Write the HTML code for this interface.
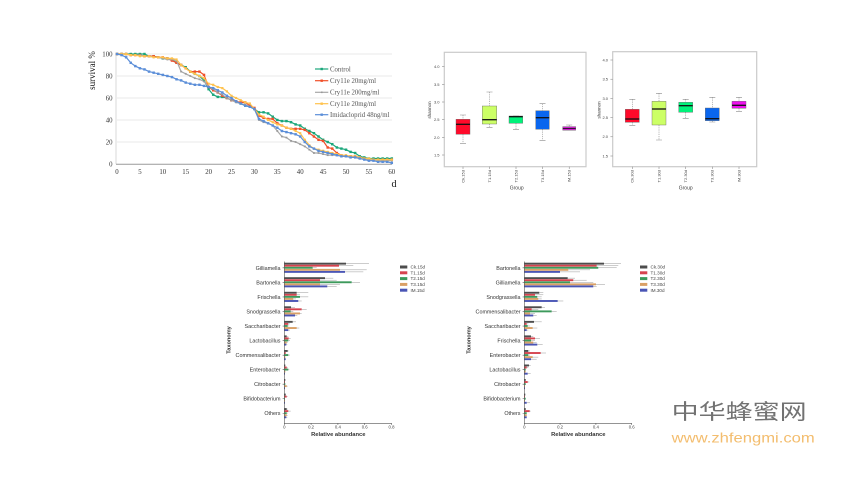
<!DOCTYPE html>
<html><head><meta charset="utf-8"><style>
html,body{margin:0;padding:0;background:#fff;}
svg{display:block;}
.ser{font-family:"Liberation Serif",serif;}
.san{font-family:"Liberation Sans",sans-serif;}
.a{fill:#4d4d4d}.b{fill:#d6434e}.c{fill:#3d9a5c}.d{fill:#d9a066}.e{fill:#4a55b5}
.err{stroke:#9a9a9a;stroke-width:0.5;fill:none}
.ln{fill:none;stroke-width:1.2;vector-effect:non-scaling-stroke;stroke-linejoin:round}
.wk{stroke:#8a8a8a;stroke-width:0.6;stroke-dasharray:1.2 1;fill:none}
.cap{stroke:#8a8a8a;stroke-width:0.6;fill:none}
.med{stroke:#111;stroke-width:1.3}
.bx{stroke:#666;stroke-width:0.4}
</style></head><body>
<svg width="864" height="484" viewBox="0 0 864 484" xmlns="http://www.w3.org/2000/svg">
<defs>
<marker id="m1" markerUnits="userSpaceOnUse" markerWidth="2" markerHeight="4" refX="0" refY="0" style="overflow:visible"><rect x="-0.27" y="-1.1" width="0.54" height="2.2" fill="#1aa67a"/></marker>
<marker id="m2" markerUnits="userSpaceOnUse" markerWidth="2" markerHeight="4" refX="0" refY="0" style="overflow:visible"><rect x="-0.27" y="-1.1" width="0.54" height="2.2" fill="#f0502a"/></marker>
<marker id="m3" markerUnits="userSpaceOnUse" markerWidth="2" markerHeight="4" refX="0" refY="0" style="overflow:visible"><rect x="-0.2" y="-0.8" width="0.4" height="1.6" fill="#9a9a9a"/></marker>
<marker id="m4" markerUnits="userSpaceOnUse" markerWidth="2" markerHeight="4" refX="0" refY="0" style="overflow:visible"><rect x="-0.24" y="-1" width="0.48" height="2" fill="#ffc24d"/></marker>
<marker id="m5" markerUnits="userSpaceOnUse" markerWidth="2" markerHeight="4" refX="0" refY="0" style="overflow:visible"><rect x="-0.27" y="-1.1" width="0.54" height="2.2" fill="#5b8ed8"/></marker>
</defs>
<rect width="864" height="484" fill="#fff"/>

<!-- ============ LINE CHART ============ -->
<g stroke="#e3e3e3" stroke-width="0.8">
<line x1="117" y1="54" x2="392" y2="54"/>
<line x1="117" y1="76" x2="392" y2="76"/>
<line x1="117" y1="98" x2="392" y2="98"/>
<line x1="117" y1="120" x2="392" y2="120"/>
<line x1="117" y1="142" x2="392" y2="142"/>
</g>
<line x1="116" y1="54" x2="116" y2="164" stroke="#cfcfcf" stroke-width="0.8"/>
<line x1="116" y1="164.3" x2="392" y2="164.3" stroke="#9a9a9a" stroke-width="1"/>
<g class="ser" font-size="6.8" fill="#333" text-anchor="end">
<text x="112.5" y="56.4">100</text>
<text x="112.5" y="78.4">80</text>
<text x="112.5" y="100.4">60</text>
<text x="112.5" y="122.4">40</text>
<text x="112.5" y="144.4">20</text>
<text x="112.5" y="166.4">0</text>
</g>
<g class="ser" font-size="6.8" fill="#333" text-anchor="middle">
<text x="117" y="174">0</text>
<text x="139.9" y="174">5</text>
<text x="162.8" y="174">10</text>
<text x="185.7" y="174">15</text>
<text x="208.6" y="174">20</text>
<text x="231.5" y="174">25</text>
<text x="254.4" y="174">30</text>
<text x="277.3" y="174">35</text>
<text x="300.2" y="174">40</text>
<text x="323.1" y="174">45</text>
<text x="346" y="174">50</text>
<text x="368.9" y="174">55</text>
<text x="391.8" y="174">60</text>
</g>
<text class="ser" font-size="9" fill="#111" text-anchor="middle" transform="translate(95,70.5) rotate(-90)">survival %</text>
<text class="ser" font-size="10" fill="#111" x="391.5" y="187">d</text>

<g transform="translate(117,164) scale(4.58,-1.1)">
<polyline class="ln" stroke="#1aa67a" marker-start="url(#m1)" marker-mid="url(#m1)" marker-end="url(#m1)" points="0,100 1,100 2,100 3,100 4,100 5,100 6,100 7,98 8,98 9,97 10,96 11,96 12,95 13,92 14,90 15,88 16,84 17,82 18,80 19,76 20,68 21,63 22,61 23,61 24,60 25,58 26,57 27,55 28,53 29,52 30,50 31,47 32,47 33,46 34,43 35,40 36,39 37,39 38,38 39,36 40,35 41,32 42,30 43,28 44,25 45,22 46,20 47,18 48,15 49,14 50,13 51,11 52,10 53,7 54,6 55,5 56,5 57,5 58,5 59,5 60,5"/>
<polyline class="ln" stroke="#f0502a" marker-start="url(#m2)" marker-mid="url(#m2)" marker-end="url(#m2)" points="0,100 1,100 2,100 3,99 4,99 5,99 6,98 7,98 8,98 9,97 10,97 11,96 12,94 13,92 14,90 15,87 16,84 17,84 18,84 19,81 20,70 21,67 22,65 23,62 24,60 25,58 26,57 27,56 28,56 29,53 30,51 31,44 32,42 33,41 34,41 35,37 36,35 37,33 38,32 39,32 40,32 41,31 42,28 43,25 44,22 45,21 46,15 47,14 48,10 49,8 50,7 51,7 52,7 53,6 54,5 55,4 56,4 57,4 58,4 59,4 60,4"/>
<polyline class="ln" stroke="#a8a8a8" marker-start="url(#m3)" marker-mid="url(#m3)" marker-end="url(#m3)" points="0,100 1,100 2,100 3,99 4,99 5,99 6,98 7,98 8,97 9,97 10,96 11,95 12,95 13,94 14,84 15,82 16,80 17,78 18,77 19,75 20,70 21,68 22,65 23,63 24,60 25,58 26,56 27,55 28,54 29,52 30,50 31,40 32,38 33,37 34,35 35,30 36,25 37,24 38,21 39,20 40,18 41,16 42,13 43,10 44,10 45,9 46,8 47,8 48,8 49,7 50,7 51,7 52,6 53,5 54,5 55,4 56,4 57,3 58,3 59,3 60,3"/>
<polyline class="ln" stroke="#ffc24d" marker-start="url(#m4)" marker-mid="url(#m4)" marker-end="url(#m4)" points="0,100 1,100 2,100 3,99 4,99 5,98 6,98 7,98 8,97 9,97 10,97 11,96 12,96 13,95 14,90 15,87 16,84 17,82 18,80 19,78 20,73 21,72 22,70 23,69 24,66 25,62 26,60 27,58 28,56 29,55 30,50 31,45 32,43 33,40 34,38 35,36 36,35 37,33 38,32 39,30 40,28 41,22 42,17 43,14 44,13 45,12 46,11 47,10 48,9 49,8 50,8 51,7 52,7 53,6 54,5 55,5 56,4 57,4 58,4 59,4 60,4"/>
<polyline class="ln" stroke="#5b8ed8" marker-start="url(#m5)" marker-mid="url(#m5)" marker-end="url(#m5)" points="0,100 1,99 2,97 3,92 4,89 5,87 6,86 7,84 8,83 9,82 10,81 11,80 12,79 13,77 14,76 15,74 16,73 17,72 18,72 19,71 20,70 21,69 22,67 23,65 24,62 25,60 26,57 27,55 28,53 29,52 30,50 31,41 32,39 33,37 34,35 35,33 36,30 37,29 38,28 39,27 40,25 41,20 42,16 43,14 44,12 45,11 46,10 47,9 48,8 49,7 50,7 51,6 52,6 53,5 54,4 55,3 56,3 57,2 58,2 59,2 60,1"/>
</g>
<!-- legend -->
<g stroke-width="1.2">
<line x1="315" y1="69" x2="328.3" y2="69" stroke="#1aa67a"/><rect x="320.5" y="67.8" width="2.4" height="2.4" fill="#1aa67a"/>
<line x1="315" y1="80.7" x2="328.3" y2="80.7" stroke="#f0502a"/><rect x="320.5" y="79.5" width="2.4" height="2.4" fill="#f0502a"/>
<line x1="315" y1="92.3" x2="328.3" y2="92.3" stroke="#a8a8a8"/><rect x="321" y="91.5" width="1.6" height="1.6" fill="#999"/>
<line x1="315" y1="103.7" x2="328.3" y2="103.7" stroke="#ffc24d"/><rect x="320.5" y="102.5" width="2.4" height="2.4" fill="#ffc24d"/>
<line x1="315" y1="114.7" x2="328.3" y2="114.7" stroke="#5b8ed8"/><rect x="320.5" y="113.5" width="2.4" height="2.4" fill="#5b8ed8"/>
</g>
<g class="ser" font-size="6.8" fill="#555">
<text x="330" y="71.3">Control</text>
<text x="330" y="83">Cry11e 20mg/ml</text>
<text x="330" y="94.6">Cry11e 200mg/ml</text>
<text x="330" y="106">Cry11e 20mg/ml</text>
<text x="330" y="117">Imidacloprid 48ng/ml</text>
</g>

<!-- ============ BOXPLOT 1 ============ -->
<rect x="444.3" y="52.3" width="141.7" height="114.4" fill="none" stroke="#cacaca" stroke-width="1.2"/>
<g stroke="#777" stroke-width="0.5">
<line x1="442" y1="66.7" x2="444.3" y2="66.7"/><line x1="442" y1="84.4" x2="444.3" y2="84.4"/><line x1="442" y1="102" x2="444.3" y2="102"/><line x1="442" y1="119.7" x2="444.3" y2="119.7"/><line x1="442" y1="137.4" x2="444.3" y2="137.4"/><line x1="442" y1="155" x2="444.3" y2="155"/>
<line x1="463" y1="166.7" x2="463" y2="169"/><line x1="489.5" y1="166.7" x2="489.5" y2="169"/><line x1="516" y1="166.7" x2="516" y2="169"/><line x1="542.5" y1="166.7" x2="542.5" y2="169"/><line x1="569.2" y1="166.7" x2="569.2" y2="169"/>
</g>
<g class="san" font-size="4" fill="#444" text-anchor="end">
<text x="439.5" y="68.1">4.0</text><text x="439.5" y="85.8">3.5</text><text x="439.5" y="103.4">3.0</text><text x="439.5" y="121.1">2.5</text><text x="439.5" y="138.8">2.0</text><text x="439.5" y="156.4">1.5</text>
<text transform="translate(464.4,170) rotate(-90)">Ck.15d</text>
<text transform="translate(490.9,170) rotate(-90)">T1.15d</text>
<text transform="translate(517.4,170) rotate(-90)">T2.15d</text>
<text transform="translate(543.9,170) rotate(-90)">T3.15d</text>
<text transform="translate(570.6,170) rotate(-90)">IM.15d</text>
</g>
<text class="san" font-size="5" fill="#444" text-anchor="middle" x="516.7" y="189.5">Group</text>
<text class="san" font-size="4.5" fill="#444" text-anchor="middle" transform="translate(431,110) rotate(-90)">shannon</text>
<path class="wk" d="M463 115V119.3M463 134.3V143.3M489.5 92V106M489.5 124V127.3M516 123.3V129.3M542.5 103.7V110.7M542.5 129.3V140.3M569.2 125V126.6"/>
<path class="cap" d="M460 115H466M460 143.3H466M486.5 92H492.5M486.5 127.3H492.5M513 116H519M513 129.3H519M539.5 103.7H545.5M539.5 140.3H545.5M566.2 125H572.2"/>
<rect class="bx" x="456" y="119.3" width="14" height="15" fill="#ff0a2a"/>
<rect class="bx" x="482.3" y="106" width="14.4" height="18" fill="#ccff66"/>
<rect class="bx" x="509" y="116" width="13.7" height="7.3" fill="#00f27a"/>
<rect class="bx" x="535.7" y="110.7" width="13.6" height="18.6" fill="#0a66ee"/>
<rect class="bx" x="562.7" y="126.6" width="13" height="3.6" fill="#cc22cc"/>
<g class="med">
<line x1="456" y1="124.3" x2="470" y2="124.3"/>
<line x1="482.3" y1="119.7" x2="496.7" y2="119.7"/>
<line x1="509" y1="116.7" x2="522.7" y2="116.7"/>
<line x1="535.7" y1="117.7" x2="549.3" y2="117.7"/>
<line x1="562.7" y1="128.6" x2="575.7" y2="128.6" stroke-width="0.8"/>
</g>

<!-- ============ BOXPLOT 2 ============ -->
<rect x="612.7" y="51.7" width="144" height="115" fill="none" stroke="#cacaca" stroke-width="1.2"/>
<g stroke="#777" stroke-width="0.5">
<line x1="610.4" y1="60" x2="612.7" y2="60"/><line x1="610.4" y1="79.2" x2="612.7" y2="79.2"/><line x1="610.4" y1="98.4" x2="612.7" y2="98.4"/><line x1="610.4" y1="117.6" x2="612.7" y2="117.6"/><line x1="610.4" y1="136.8" x2="612.7" y2="136.8"/><line x1="610.4" y1="156" x2="612.7" y2="156"/>
<line x1="632.3" y1="166.7" x2="632.3" y2="169"/><line x1="659" y1="166.7" x2="659" y2="169"/><line x1="685.7" y1="166.7" x2="685.7" y2="169"/><line x1="712.3" y1="166.7" x2="712.3" y2="169"/><line x1="739" y1="166.7" x2="739" y2="169"/>
</g>
<g class="san" font-size="4" fill="#444" text-anchor="end">
<text x="608" y="61.4">4.0</text><text x="608" y="80.6">3.5</text><text x="608" y="99.8">3.0</text><text x="608" y="119">2.5</text><text x="608" y="138.2">2.0</text><text x="608" y="157.4">1.5</text>
<text transform="translate(633.7,170) rotate(-90)">Ck.30d</text>
<text transform="translate(660.4,170) rotate(-90)">T1.30d</text>
<text transform="translate(687.1,170) rotate(-90)">T2.30d</text>
<text transform="translate(713.7,170) rotate(-90)">T3.30d</text>
<text transform="translate(740.4,170) rotate(-90)">IM.30d</text>
</g>
<text class="san" font-size="5" fill="#444" text-anchor="middle" x="685.7" y="189.5">Group</text>
<text class="san" font-size="4.5" fill="#444" text-anchor="middle" transform="translate(600.5,110) rotate(-90)">shannon</text>
<path class="wk" d="M632.3 99.3V109.3M632.3 122.3V125.3M659 93.3V101.3M659 125V140M685.7 99.3V102.3M685.7 112.3V118.3M712.3 97.3V108M712.3 120.7V122M739 97.3V101.3M739 108.3V111.3"/>
<path class="cap" d="M629.3 99.3H635.3M629.3 125.3H635.3M656 93.3H662M656 140H662M682.7 99.3H688.7M682.7 118.3H688.7M709.3 97.3H715.3M709.3 122H715.3M736 97.3H742M736 111.3H742"/>
<rect class="bx" x="625.3" y="109.3" width="14" height="13" fill="#ff0a2a"/>
<rect class="bx" x="652" y="101.3" width="14" height="23.7" fill="#ccff66"/>
<rect class="bx" x="678.7" y="102.3" width="14" height="10" fill="#00f27a"/>
<rect class="bx" x="705.3" y="108" width="14" height="12.7" fill="#0a66ee"/>
<rect class="bx" x="732" y="101.3" width="14" height="7" fill="#ee11ee"/>
<g class="med">
<line x1="625.3" y1="119" x2="639.3" y2="119"/>
<line x1="652" y1="109" x2="666" y2="109"/>
<line x1="678.7" y1="105.7" x2="692.7" y2="105.7"/>
<line x1="705.3" y1="118.7" x2="719.3" y2="118.7"/>
<line x1="732" y1="105.3" x2="746" y2="105.3"/>
</g>

<!-- ============ BAR CHART 1 ============ -->
<g transform="translate(284.3,262.7)"><rect class="a" y="0" width="61.7" height="1.9"/><rect class="b" y="2.06" width="54.7" height="1.9"/><rect class="c" y="4.12" width="28.4" height="1.9"/><rect class="d" y="6.18" width="55.7" height="1.9"/><rect class="e" y="8.24" width="60.7" height="1.9"/><path class="err" d="M61.7 .95H84.7M54.7 3H69M28.4 5.07H32.4M55.7 7.13H82.4M60.7 9.19H79"/></g>
<g transform="translate(284.3,277.2)"><rect class="a" y="0" width="40.7" height="1.9"/><rect class="b" y="2.06" width="35.7" height="1.9"/><rect class="c" y="4.12" width="67.4" height="1.9"/><rect class="d" y="6.18" width="35.7" height="1.9"/><rect class="e" y="8.24" width="43" height="1.9"/><path class="err" d="M40.7 .95H49M35.7 3H52.4M67.4 5.07H75.7M35.7 7.13H55.7M43 9.19H52.4"/></g>
<g transform="translate(284.3,291.8)"><rect class="a" y="0" width="12.4" height="1.9"/><rect class="b" y="2.06" width="12.4" height="1.9"/><rect class="c" y="4.12" width="15.7" height="1.9"/><rect class="d" y="6.18" width="9" height="1.9"/><rect class="e" y="8.24" width="14" height="1.9"/><path class="err" d="M12.4 .95H24M12.4 3H15.7M15.7 5.07H24M9 7.13H11.7M14 9.19H17.4"/></g>
<g transform="translate(284.3,306.3)"><rect class="a" y="0" width="6.7" height="1.9"/><rect class="b" y="2.06" width="17.4" height="1.9"/><rect class="c" y="4.12" width="6.4" height="1.9"/><rect class="d" y="6.18" width="15.7" height="1.9"/><rect class="e" y="8.24" width="10.7" height="1.9"/><path class="err" d="M6.7 .95H10.7M17.4 3H22.4M6.4 5.07H9M15.7 7.13H17.4M10.7 9.19H13"/></g>
<g transform="translate(284.3,320.9)"><rect class="a" y="0" width="8.4" height="1.9"/><rect class="b" y="2.06" width="4" height="1.9"/><rect class="c" y="4.12" width="3.4" height="1.9"/><rect class="d" y="6.18" width="12.4" height="1.9"/><rect class="e" y="8.24" width="4" height="1.9"/><path class="err" d="M8.4 .95H11.7M4 3H5.7M3.4 5.07H5M12.4 7.13H15M4 9.19H5.7"/></g>
<g transform="translate(284.3,335.4)"><rect class="a" y="0" width="2.4" height="1.9"/><rect class="b" y="2.06" width="4.4" height="1.9"/><rect class="c" y="4.12" width="4" height="1.9"/><rect class="d" y="6.18" width="2.4" height="1.9"/><rect class="e" y="8.24" width="2" height="1.9"/><path class="err" d="M2.4 .95H4M4.4 3H6.4M4 5.07H5.7M2.4 7.13H3.4M2 9.19H3"/></g>
<g transform="translate(284.3,350)"><rect class="a" y="0" width="3.4" height="1.9"/><rect class="b" y="2.06" width="1.4" height="1.9"/><rect class="c" y="4.12" width="4" height="1.9"/><rect class="d" y="6.18" width="1" height="1.9"/><rect class="e" y="8.24" width="1.4" height="1.9"/><path class="err" d="M3.4 .95H4.4M4 5.07H5.7"/></g>
<g transform="translate(284.3,364.5)"><rect class="a" y="0" width="1" height="1.9"/><rect class="b" y="2.06" width="2.4" height="1.9"/><rect class="c" y="4.12" width="4" height="1.9"/><rect class="d" y="6.18" width="1" height="1.9"/><rect class="e" y="8.24" width="0.7" height="1.9"/><path class="err" d="M2.4 3H3.4M4 5.07H5"/></g>
<g transform="translate(284.3,379)"><rect class="a" y="0" width="1" height="1.9"/><rect class="b" y="2.06" width="0.7" height="1.9"/><rect class="c" y="4.12" width="1" height="1.9"/><rect class="d" y="6.18" width="2.4" height="1.9"/><rect class="e" y="8.24" width="0.7" height="1.9"/><path class="err" d="M2.4 7.13H3.4"/></g>
<g transform="translate(284.3,393.6)"><rect class="a" y="0" width="1.4" height="1.9"/><rect class="b" y="2.06" width="2.4" height="1.9"/><rect class="c" y="4.12" width="0.7" height="1.9"/><rect class="d" y="6.18" width="0.7" height="1.9"/><rect class="e" y="8.24" width="0.7" height="1.9"/><path class="err" d="M2.4 3H3.4"/></g>
<g transform="translate(284.3,408.1)"><rect class="a" y="0" width="2.4" height="1.9"/><rect class="b" y="2.06" width="4" height="1.9"/><rect class="c" y="4.12" width="2.4" height="1.9"/><rect class="d" y="6.18" width="2.4" height="1.9"/><rect class="e" y="8.24" width="2" height="1.9"/><path class="err" d="M2.4 .95H3.4M4 3H6.4M2.4 5.07H3.4M2.4 7.13H3.4M2 9.19H3"/></g>
<g stroke="#555" stroke-width="0.6" fill="none">
<path d="M284.3 261.5V423.3H391.7"/>
<path d="M284.3 423.3v1.6M311.1 423.3v1.6M337.9 423.3v1.6M364.7 423.3v1.6M391.5 423.3v1.6"/>
<path d="M282.6 267.85h1.7M282.6 282.35h1.7M282.6 296.95h1.7M282.6 311.45h1.7M282.6 326.05h1.7M282.6 340.55h1.7M282.6 355.15h1.7M282.6 369.65h1.7M282.6 384.15h1.7M282.6 398.75h1.7M282.6 413.25h1.7"/>
</g>
<g class="san" font-size="5.4" fill="#333" text-anchor="end">
<text x="280.5" y="269.8">Gilliamella</text>
<text x="280.5" y="284.3">Bartonella</text>
<text x="280.5" y="298.9">Frischella</text>
<text x="280.5" y="313.4">Snodgrassella</text>
<text x="280.5" y="328">Saccharibacter</text>
<text x="280.5" y="342.5">Lactobacillus</text>
<text x="280.5" y="357.1">Commensalibacter</text>
<text x="280.5" y="371.6">Enterobacter</text>
<text x="280.5" y="386.1">Citrobacter</text>
<text x="280.5" y="400.7">Bifidobacterium</text>
<text x="280.5" y="415.2">Others</text>
</g>
<g class="san" font-size="4.3" fill="#444" text-anchor="middle">
<text x="284.3" y="428.5">0</text><text x="311.1" y="428.5">0.2</text><text x="337.9" y="428.5">0.4</text><text x="364.7" y="428.5">0.6</text><text x="391.5" y="428.5">0.8</text>
</g>
<text class="san" font-size="5.8" font-weight="bold" fill="#333" text-anchor="middle" x="338.3" y="435.8">Relative abundance</text>
<text class="san" font-size="5.6" font-weight="bold" fill="#333" text-anchor="middle" transform="translate(230.3,340) rotate(-90)">Taxonomy</text>
<rect class="a" x="400" y="265.5" width="7.3" height="3"/><rect class="b" x="400" y="271.3" width="7.3" height="3"/><rect class="c" x="400" y="277.1" width="7.3" height="3"/><rect class="d" x="400" y="282.9" width="7.3" height="3"/><rect class="e" x="400" y="288.7" width="7.3" height="3"/>
<g class="san" font-size="4.6" fill="#444">
<text x="410.5" y="268.6">Ck.15d</text><text x="410.5" y="274.4">T1.15d</text><text x="410.5" y="280.2">T2.15d</text><text x="410.5" y="286">T3.15d</text><text x="410.5" y="291.8">IM.15d</text>
</g>

<!-- ============ BAR CHART 2 ============ -->
<g transform="translate(524.3,262.7)"><rect class="a" y="0" width="79.7" height="1.9"/><rect class="b" y="2.06" width="72.4" height="1.9"/><rect class="c" y="4.12" width="74" height="1.9"/><rect class="d" y="6.18" width="44" height="1.9"/><rect class="e" y="8.24" width="35.7" height="1.9"/><path class="err" d="M79.7 .95H96.7M72.4 3H94M74 5.07H92.4M44 7.13H65.7M35.7 9.19H55.7"/></g>
<g transform="translate(524.3,277.2)"><rect class="a" y="0" width="43.4" height="1.9"/><rect class="b" y="2.06" width="49" height="1.9"/><rect class="c" y="4.12" width="45.7" height="1.9"/><rect class="d" y="6.18" width="71.7" height="1.9"/><rect class="e" y="8.24" width="69" height="1.9"/><path class="err" d="M43.4 .95H50.7M49 3H62.4M45.7 5.07H69M71.7 7.13H80.7M69 9.19H72.4"/></g>
<g transform="translate(524.3,291.8)"><rect class="a" y="0" width="15" height="1.9"/><rect class="b" y="2.06" width="10.7" height="1.9"/><rect class="c" y="4.12" width="13" height="1.9"/><rect class="d" y="6.18" width="14" height="1.9"/><rect class="e" y="8.24" width="33.4" height="1.9"/><path class="err" d="M15 .95H19M10.7 3H19M13 5.07H17.4M14 7.13H17.4M33.4 9.19H39"/></g>
<g transform="translate(524.3,306.3)"><rect class="a" y="0" width="17.4" height="1.9"/><rect class="b" y="2.06" width="7.4" height="1.9"/><rect class="c" y="4.12" width="27.4" height="1.9"/><rect class="d" y="6.18" width="5.7" height="1.9"/><rect class="e" y="8.24" width="9" height="1.9"/><path class="err" d="M17.4 .95H20.7M7.4 3H14M27.4 5.07H32.4M5.7 7.13H10.7M9 9.19H12.4"/></g>
<g transform="translate(524.3,320.9)"><rect class="a" y="0" width="9.7" height="1.9"/><rect class="b" y="2.06" width="2.4" height="1.9"/><rect class="c" y="4.12" width="3.4" height="1.9"/><rect class="d" y="6.18" width="8.4" height="1.9"/><rect class="e" y="8.24" width="2.4" height="1.9"/><path class="err" d="M9.7 .95H17.4M2.4 3H4M3.4 5.07H5.7M8.4 7.13H13M2.4 9.19H4"/></g>
<g transform="translate(524.3,335.4)"><rect class="a" y="0" width="6.7" height="1.9"/><rect class="b" y="2.06" width="10.7" height="1.9"/><rect class="c" y="4.12" width="6.7" height="1.9"/><rect class="d" y="6.18" width="9" height="1.9"/><rect class="e" y="8.24" width="13" height="1.9"/><path class="err" d="M6.7 .95H9M10.7 3H15.7M6.7 5.07H10.7M9 7.13H12.4M13 9.19H18.4"/></g>
<g transform="translate(524.3,350)"><rect class="a" y="0" width="4" height="1.9"/><rect class="b" y="2.06" width="16.4" height="1.9"/><rect class="c" y="4.12" width="4" height="1.9"/><rect class="d" y="6.18" width="8.4" height="1.9"/><rect class="e" y="8.24" width="6.7" height="1.9"/><path class="err" d="M4 .95H5.7M16.4 3H21.7M4 5.07H5.7M8.4 7.13H14M6.7 9.19H12.4"/></g>
<g transform="translate(524.3,364.5)"><rect class="a" y="0" width="4.7" height="1.9"/><rect class="b" y="2.06" width="2.4" height="1.9"/><rect class="c" y="4.12" width="1.4" height="1.9"/><rect class="d" y="6.18" width="1.4" height="1.9"/><rect class="e" y="8.24" width="3.4" height="1.9"/><path class="err" d="M4.7 .95H6.4M2.4 3H4M3.4 9.19H6.4"/></g>
<g transform="translate(524.3,379)"><rect class="a" y="0" width="1.4" height="1.9"/><rect class="b" y="2.06" width="3.4" height="1.9"/><rect class="c" y="4.12" width="1.4" height="1.9"/><rect class="d" y="6.18" width="0.7" height="1.9"/><rect class="e" y="8.24" width="0.7" height="1.9"/><path class="err" d="M3.4 3H5"/></g>
<g transform="translate(524.3,393.6)"><rect class="a" y="0" width="1" height="1.9"/><rect class="b" y="2.06" width="0.7" height="1.9"/><rect class="c" y="4.12" width="1.4" height="1.9"/><rect class="d" y="6.18" width="0.7" height="1.9"/><rect class="e" y="8.24" width="2.4" height="1.9"/><path class="err" d="M2.4 9.19H5.7"/></g>
<g transform="translate(524.3,408.1)"><rect class="a" y="0" width="1.4" height="1.9"/><rect class="b" y="2.06" width="5.4" height="1.9"/><rect class="c" y="4.12" width="2.4" height="1.9"/><rect class="d" y="6.18" width="2.4" height="1.9"/><rect class="e" y="8.24" width="2.4" height="1.9"/><path class="err" d="M5.4 3H6.4"/></g>
<g stroke="#555" stroke-width="0.6" fill="none">
<path d="M524.3 261.5V423.3H631.7"/>
<path d="M524.3 423.3v1.6M560.1 423.3v1.6M595.9 423.3v1.6M631.7 423.3v1.6"/>
<path d="M522.6 267.85h1.7M522.6 282.35h1.7M522.6 296.95h1.7M522.6 311.45h1.7M522.6 326.05h1.7M522.6 340.55h1.7M522.6 355.15h1.7M522.6 369.65h1.7M522.6 384.15h1.7M522.6 398.75h1.7M522.6 413.25h1.7"/>
</g>
<g class="san" font-size="5.4" fill="#333" text-anchor="end">
<text x="520.5" y="269.8">Bartonella</text>
<text x="520.5" y="284.3">Gilliamella</text>
<text x="520.5" y="298.9">Snodgrassella</text>
<text x="520.5" y="313.4">Commensalibacter</text>
<text x="520.5" y="328">Saccharibacter</text>
<text x="520.5" y="342.5">Frischella</text>
<text x="520.5" y="357.1">Enterobacter</text>
<text x="520.5" y="371.6">Lactobacillus</text>
<text x="520.5" y="386.1">Citrobacter</text>
<text x="520.5" y="400.7">Bifidobacterium</text>
<text x="520.5" y="415.2">Others</text>
</g>
<g class="san" font-size="4.3" fill="#444" text-anchor="middle">
<text x="524.3" y="428.5">0</text><text x="560.1" y="428.5">0.2</text><text x="595.9" y="428.5">0.4</text><text x="631.7" y="428.5">0.6</text>
</g>
<text class="san" font-size="5.8" font-weight="bold" fill="#333" text-anchor="middle" x="578.3" y="435.8">Relative abundance</text>
<text class="san" font-size="5.6" font-weight="bold" fill="#333" text-anchor="middle" transform="translate(470.3,340) rotate(-90)">Taxonomy</text>
<rect class="a" x="640" y="265.5" width="7.3" height="3"/><rect class="b" x="640" y="271.3" width="7.3" height="3"/><rect class="c" x="640" y="277.1" width="7.3" height="3"/><rect class="d" x="640" y="282.9" width="7.3" height="3"/><rect class="e" x="640" y="288.7" width="7.3" height="3"/>
<g class="san" font-size="4.6" fill="#444">
<text x="650.5" y="268.6">Ck.30d</text><text x="650.5" y="274.4">T1.30d</text><text x="650.5" y="280.2">T2.30d</text><text x="650.5" y="286">T3.30d</text><text x="650.5" y="291.8">IM.30d</text>
</g>

<!-- ============ WATERMARK ============ -->
<text x="671.7" y="419" font-family="'Liberation Sans','Noto Sans CJK SC',sans-serif" font-size="21" fill="#727272" textLength="135" lengthAdjust="spacingAndGlyphs">中华蜂蜜网</text>
<text x="671.7" y="442.3" font-family="'Liberation Sans',sans-serif" font-size="14" fill="#f3bd6e" textLength="143" lengthAdjust="spacingAndGlyphs">www.zhfengmi.com</text>
</svg>
</body></html>
